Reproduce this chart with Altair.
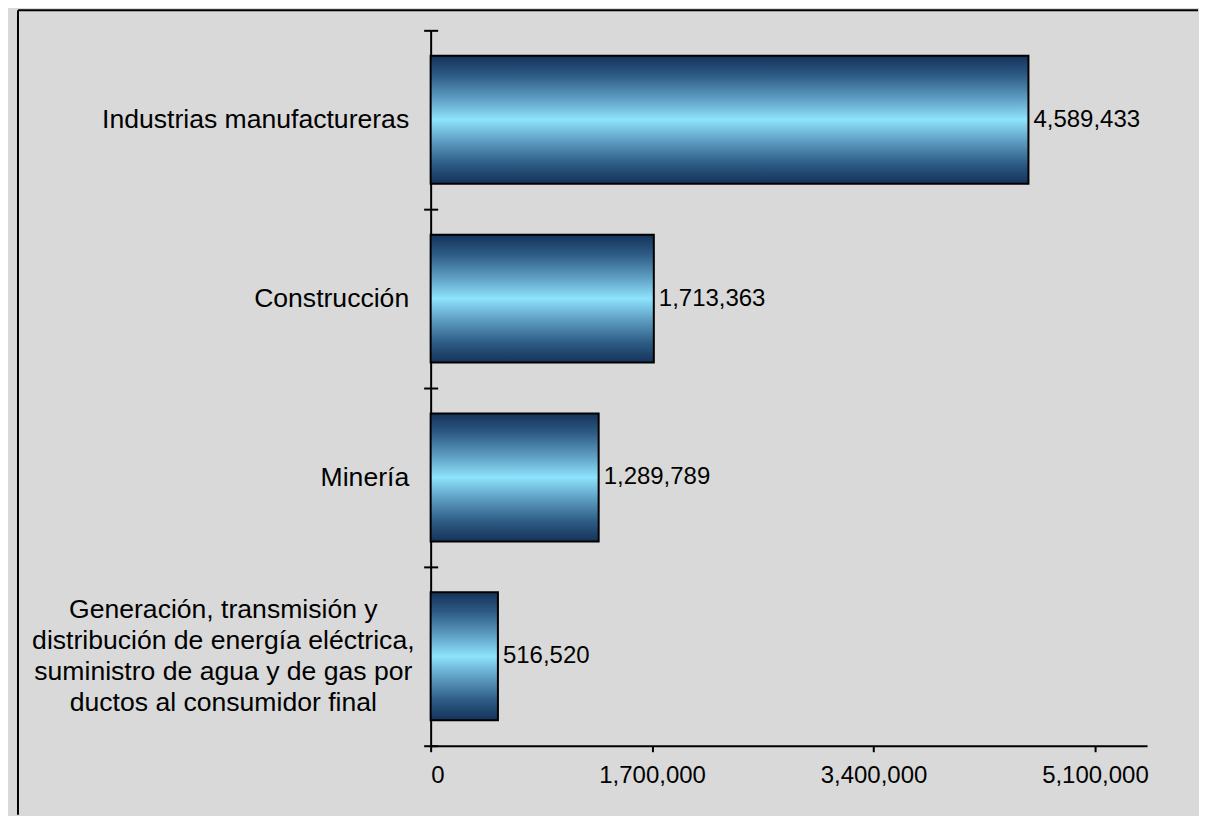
import altair as alt
import pandas as pd

categories = [
    "Industrias manufactureras",
    "Construcción",
    "Minería",
    "Generación, transmisión y\ndistribución de energía eléctrica,\nsuministro de agua y de gas por\nductos al consumidor final",
]
values = [4589433, 1713363, 1289789, 516520]
x_ticks = [0, 1700000, 3400000, 5100000]
x_max = 5500000

df = pd.DataFrame({"cat": categories, "val": values})

FONT = "Liberation Sans"
W, H = 717, 716

grad = alt.Gradient(
    gradient="linear", x1=0, x2=0, y1=0, y2=1,
    stops=[
        alt.GradientStop(offset=0.0, color="#15325a"),
        alt.GradientStop(offset=0.15, color="#2c5a83"),
        alt.GradientStop(offset=0.33, color="#5d9cc2"),
        alt.GradientStop(offset=0.5, color="#8ee3fc"),
        alt.GradientStop(offset=0.67, color="#5d9cc2"),
        alt.GradientStop(offset=0.85, color="#2c5a83"),
        alt.GradientStop(offset=1.0, color="#15325a"),
    ],
)

yscale = alt.Scale(domain=categories, paddingInner=0, paddingOuter=0)
xscale = alt.Scale(domain=[0, x_max], nice=False, zero=True)

x_axis = alt.Axis(
    values=x_ticks, labelExpr="format(datum.value, ',')", title=None, grid=False,
    tickSize=6, labelPadding=12, labelFont=FONT, labelFontSize=24,
    labelColor="black",
)

bars = alt.Chart(df).mark_bar(
    color=grad, stroke="black", strokeWidth=2, height={"band": 0.715}
).encode(
    x=alt.X("val:Q", scale=xscale, axis=x_axis),
    y=alt.Y(
        "cat:N", scale=yscale, sort=None,
        axis=alt.Axis(
            title=None, tickBand="extent", tickSize=7,
            labelFont=FONT, labelFontSize=26.6, labelColor="black",
            labelLimit=0, labelPadding=15,
            labelExpr="indexof(datum.label, '\\n') >= 0 ? '' : datum.label",
        ),
    ),
)

labels = alt.Chart(df).mark_text(
    align="left", baseline="middle", dx=5, font=FONT, fontSize=24, color="black"
).encode(
    x=alt.X("val:Q", scale=xscale, axis=x_axis),
    y=alt.Y(
        "cat:N", scale=yscale, sort=None,
        axis=alt.Axis(
            orient="right", offset=-W, labels=False, domain=False, title=None,
            tickBand="extent", tickSize=7,
        ),
    ),
    text=alt.Text("val:Q", format=","),
)

multi = alt.Chart(df).transform_filter(
    "indexof(datum.cat, '\\n') >= 0"
).mark_text(
    align="center", baseline="middle", lineBreak="\n", lineHeight=31, dy=-46,
    font=FONT, fontSize=26.6, color="black",
).encode(
    x=alt.value(-207.5),
    y=alt.Y("cat:N", scale=yscale, sort=None, axis=None),
    text="cat:N",
)

one = pd.DataFrame({"a": [0]})
frame_top = alt.Chart(one).mark_rule(color="black", strokeWidth=2).encode(
    x=alt.value(-413), x2=alt.value(768), y=alt.value(-20)
)
frame_left = alt.Chart(one).mark_rule(color="black", strokeWidth=2).encode(
    x=alt.value(-413), y=alt.value(-20), y2=alt.value(785)
)

chart = (
    alt.layer(bars, labels, multi, frame_top, frame_left)
    .resolve_axis(y="independent")
    .properties(width=W, height=H, padding={"left": 9, "top": 1, "right": 0, "bottom": 0})
    .configure(background="#d9d9d9")
    .configure_view(stroke=None)
    .configure_axis(domainColor="black", domainWidth=2, tickColor="black", tickWidth=2)
)

chart.save("out.html", embed_options={"renderer": "svg", "actions": False})
